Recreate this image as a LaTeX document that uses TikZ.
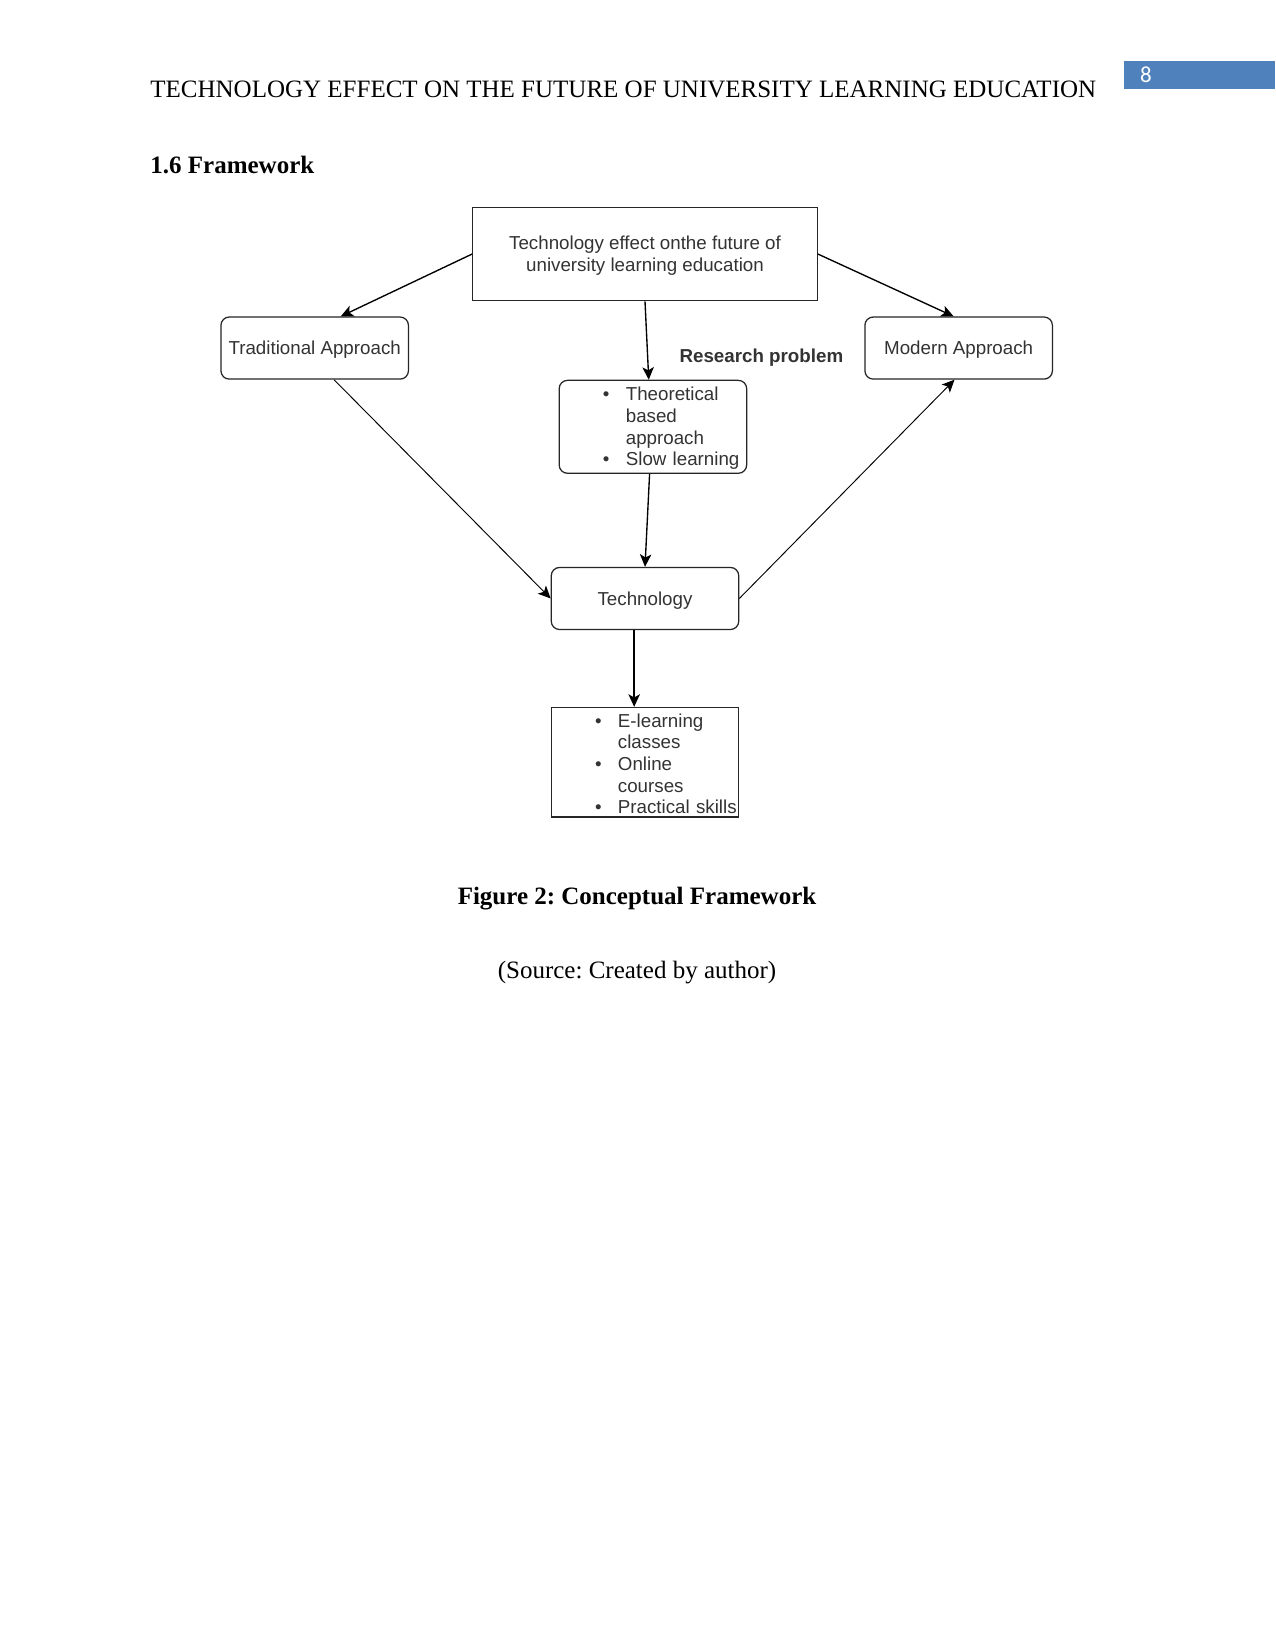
\documentclass[tikz,border=0pt]{standalone}
\usepackage{fontspec}
\setmainfont{Liberation Serif}
\newfontfamily\diagfont{Liberation Sans}
\newfontfamily\numfont{Carlito}
\usetikzlibrary{arrows.meta, positioning}
\definecolor{pageBlue}{RGB}{79,129,189}
\definecolor{boxText}{RGB}{51,51,51}
\newcommand{\bitem}[1]{\hspace*{21pt}\makebox[11pt][l]{\textbullet}#1}
\newcommand{\bcont}[1]{\hspace*{32pt}#1}
\frenchspacing

\begin{document}
\begin{tikzpicture}[
  x=0.48pt, y=-0.48pt,
  box/.style={draw=black!85, line width=0.6pt, text=boxText,
              font=\diagfont\fontsize{9}{10.4}\selectfont,
              minimum width=90pt, minimum height=29.8pt,
              inner sep=0pt, text depth=0pt, align=center},
  roundbox/.style={box, rounded corners=4pt},
  listbox/.style={box, text width=90pt, align=left,
                  text depth=, text height=8pt},
  >={Stealth[length=6pt, width=5.5pt, inset=1.5pt]}
]
  \fill[white] (0,0) rectangle (1275,1651);
  \useasboundingbox (0,0) rectangle (1275,1651);

  \fill[pageBlue] (1124,61) rectangle (1275,89);
  \node[text=white, font=\numfont\fontsize{11}{13}\selectfont, inner sep=0pt]
    (pnum) at (1146,75) {8};
  \node[anchor=base west, inner sep=0pt, font=\fontsize{12}{14}\selectfont]
    (head) at (150,98) {TECHNOLOGY EFFECT ON THE FUTURE OF UNIVERSITY LEARNING EDUCATION};
  \node[anchor=base west, inner sep=0pt, font=\bfseries\fontsize{12}{14}\selectfont]
    (sec) at (150,174) {1.6 Framework};

  \node[box, minimum width=165.3pt, minimum height=44.9pt]
    (top) at (645,254) {Technology effect onthe future of\\university learning education};
  \node[roundbox, below left=7.2pt and 30.3pt of top]
    (trad) {Traditional Approach};
  \node[roundbox, below right=7.2pt and 22.3pt of top]
    (modern) {Modern Approach};
  \node[listbox, rounded corners=4pt, minimum height=44.6pt,
        below=37.6pt of top, xshift=3.8pt]
    (prob) {\bitem{Theoretical}\\\bcont{based}\\\bcont{approach}\\\bitem{Slow learning}};
  \node[anchor=west, inner sep=0pt, text=boxText,
        font=\diagfont\bfseries\fontsize{9}{10.4}\selectfont]
    (rp) at ([xshift=12.6pt, yshift=10.6pt]prob.north) {Research problem};
  \node[roundbox, below=44.6pt of prob, xshift=-3.8pt]
    (tech) {Technology};
  \node[listbox, minimum height=52.6pt, below=36.8pt of tech]
    (outc) {\bitem{E-learning}\\\bcont{classes}\\\bitem{Online}\\\bcont{courses}\\\bitem{Practical skills}};

  \draw[->, line width=0.65pt]
    (top.west) -- ([xshift=12.5pt]trad.north);
  \draw[->, line width=0.65pt]
    (top.east) -- ([xshift=-2.4pt]modern.north);
  \draw[->, line width=0.65pt]
    (top.south) -- ([xshift=-2pt]prob.north);
  \draw[->, line width=0.65pt]
    ([xshift=-1.6pt]prob.south) -- (tech.north);
  \draw[->, line width=0.45pt]
    ([xshift=9.3pt]trad.south) -- (tech.west);
  \draw[->, line width=0.45pt]
    (tech.east) -- ([xshift=-2pt]modern.south);
  \draw[->, line width=0.65pt]
    ([xshift=-5.2pt]tech.south) -- ([xshift=-5.2pt]outc.north);

  \node[anchor=base, inner sep=0pt, font=\bfseries\fontsize{12}{14}\selectfont]
    (cap) at (637,904) {Figure 2: Conceptual Framework};
  \node[anchor=base, inner sep=0pt, font=\fontsize{12}{14}\selectfont]
    (src) at (637,978) {(Source: Created by author)};
\end{tikzpicture}
\end{document}
